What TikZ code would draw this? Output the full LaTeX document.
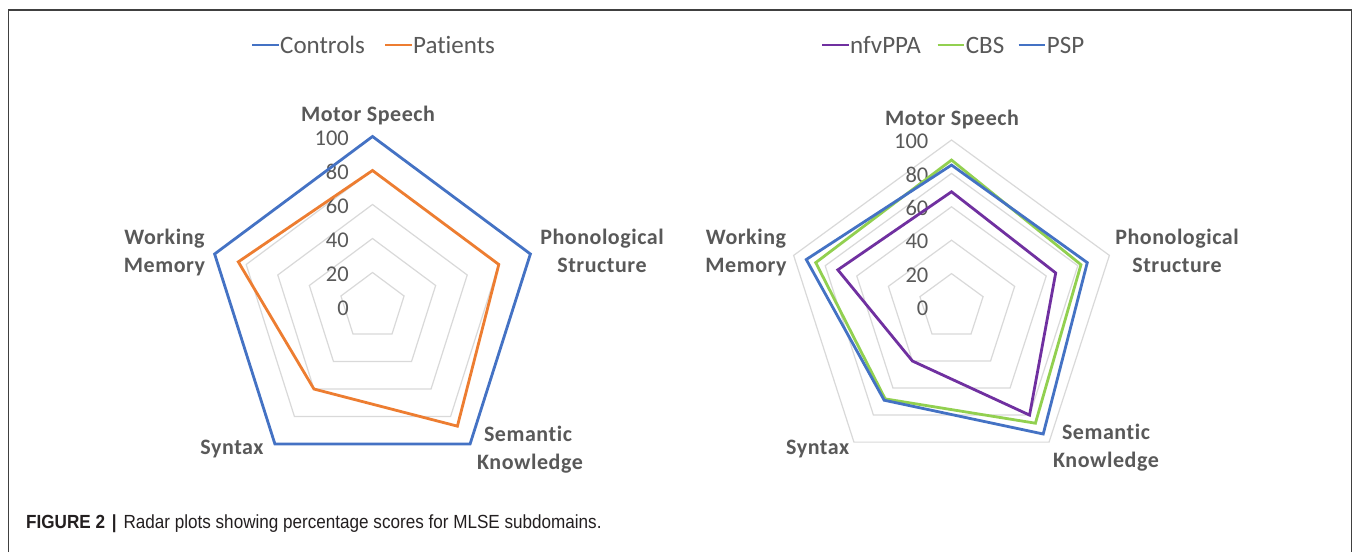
\documentclass[tikz,border=0pt]{standalone}
\usepackage{fontspec}
\setmainfont{Carlito}[Ligatures={NoCommon}]
\newfontfamily\capfont{Liberation Sans}
\definecolor{xlblue}{HTML}{4472C4}
\definecolor{xlorange}{HTML}{ED7D31}
\definecolor{xlpurple}{HTML}{7030A0}
\definecolor{xlgreen}{HTML}{92D050}
\definecolor{gridgray}{HTML}{D9D9D9}
\definecolor{txtgray}{HTML}{595959}
\definecolor{capblack}{HTML}{231F20}
\newcommand\rdpoly[6]{%
  \foreach \v [count=\k from 0] in {#6}{%
    \coordinate (rdp\k) at ({#1+(#3/100)*\v*cos(90-72*\k)},{#2-(#4/100)*\v*sin(90-72*\k)});}
  \draw[#5] (rdp0) -- (rdp1) -- (rdp2) -- (rdp3) -- (rdp4) -- cycle;}
\begin{document}
\begin{tikzpicture}[x=1pt,y=-1pt,
  axlabel/.style={font=\fontsize{22}{26}\selectfont\bfseries\addfontfeature{LetterSpace=2.5}, text=txtgray, anchor=base, inner sep=0},
  ticklabel/.style={font=\fontsize{22.5}{26}\selectfont, text=txtgray, anchor=east, inner sep=0},
  legtext/.style={font=\fontsize{25}{30}\selectfont, text=txtgray, anchor=west, inner sep=0, text height=16, text depth=0},
  legline/.style={line width=2.6},
  series/.style={line width=2.8, line join=miter},
  gridline/.style={gridgray, line width=1.2},
  frame/.style={black!75, line width=1.5}]
\useasboundingbox (0,0) rectangle (1354,552);
\fill[white] (0,0) rectangle (1354,552);
\draw[frame] (8.3,552) -- (8.3,10) -- (1351.7,10) -- (1351.7,552);

% ---------- left radar ----------
\foreach \r in {20,40,60,80,100} {\rdpoly{372.5}{306.5}{166}{170}{gridline}{\r,\r,\r,\r,\r}}
\foreach \t in {0,20,40,60,80,100} {\node[ticklabel] (Lt\t) at (349,{306.5-1.7*\t+1.5}) {\t};}
\rdpoly{372.5}{306.5}{166}{170}{series,xlorange}{80,80,87,60,85}
\rdpoly{372.5}{306.5}{166}{170}{series,xlblue}{100,100,100,100,100}
\node[axlabel] (LMS) at (368,121.5) {Motor Speech};
\node[axlabel] (LPh1) at (602,244) {Phonological};
\node[axlabel] (LPh2) at (602,272.5) {Structure};
\node[axlabel] (LSe1) at (528,441.5) {Semantic};
\node[axlabel] (LSe2) at (530,469) {Knowledge};
\node[axlabel] (LSy) at (232,454) {Syntax};
\node[axlabel] (LWM1) at (164.5,244) {Working};
\node[axlabel] (LWM2) at (164.5,272.5) {Memory};
\node[legtext] (legC) at (280,45) {Controls};
\draw[legline, xlblue] ([xshift=-28]legC.west) -- ([xshift=-1.5]legC.west);
\node[legtext] (legP) at (413,45) {Patients};
\draw[legline, xlorange] ([xshift=-28]legP.west) -- ([xshift=-1.5]legP.west);

% ---------- right radar ----------
\foreach \r in {20,40,60,80,100} {\rdpoly{951.5}{307}{166}{167}{gridline}{\r,\r,\r,\r,\r}}
\foreach \t in {0,20,40,60,80,100} {\node[ticklabel] (Rt\t) at (928.5,{307-1.67*\t+1.5}) {\t};}
\rdpoly{951.5}{307}{166}{167}{series,xlpurple}{69,66,80,40,72}
\rdpoly{951.5}{307}{166}{167}{series,xlgreen}{88,82,86,68,86}
\rdpoly{951.5}{307}{166}{167}{series,xlblue}{85,86,94,69,92}
\node[axlabel] (RMS) at (952,125) {Motor Speech};
\node[axlabel] (RPh1) at (1177,244) {Phonological};
\node[axlabel] (RPh2) at (1177,272.5) {Structure};
\node[axlabel] (RSe1) at (1106,439.5) {Semantic};
\node[axlabel] (RSe2) at (1106,467.5) {Knowledge};
\node[axlabel] (RSy) at (817.7,454) {Syntax};
\node[axlabel] (RWM1) at (746,244) {Working};
\node[axlabel] (RWM2) at (746,272.5) {Memory};
\node[legtext] (legN) at (850,45) {nfvPPA};
\draw[legline, xlpurple] ([xshift=-28]legN.west) -- ([xshift=-1.5]legN.west);
\node[legtext] (legCB) at (965.7,45) {CBS};
\draw[legline, xlgreen] ([xshift=-28]legCB.west) -- ([xshift=-1.5]legCB.west);
\node[legtext] (legPS) at (1046.7,45) {PSP};
\draw[legline, xlblue] ([xshift=-28]legPS.west) -- ([xshift=-1.5]legPS.west);

% ---------- caption ----------
\node[anchor=base west, inner sep=0, text=capblack, font=\capfont\fontsize{19}{23}\selectfont] (cap) at (26,528)
  {\scalebox{0.9}[1]{\textbf{FIGURE 2}\hspace{0.4em}\textbf{|}\hspace{0.4em}Radar plots showing percentage scores for MLSE subdomains.}};
\end{tikzpicture}
\end{document}
